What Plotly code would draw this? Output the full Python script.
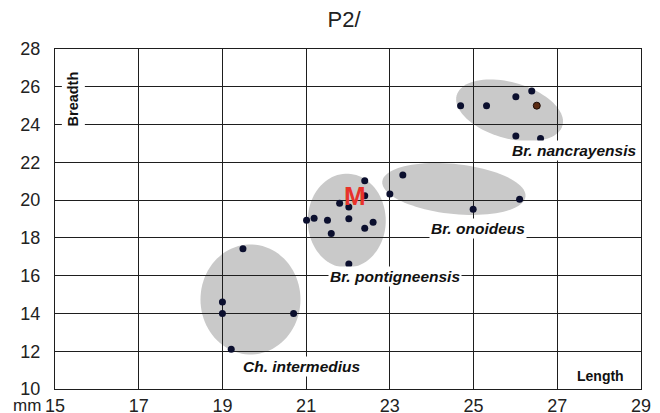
import numpy as np
import plotly.graph_objects as go

# ---------------- data ----------------
nanc_len = [24.69, 25.31, 26.01, 26.39, 26.51, 26.01, 26.60]
nanc_br = [24.99, 24.99, 25.47, 25.77, 25.00, 23.40, 23.26]
nanc_special = [False, False, False, False, True, False, False]

onoi_len = [23.31, 23.00, 24.99, 26.10]
onoi_br = [21.33, 20.32, 19.52, 20.04]

pont_len = [22.40, 22.40, 21.80, 22.02, 21.01, 21.19, 21.51, 22.02, 21.60, 22.40, 22.60, 22.02]
pont_br = [21.02, 20.23, 19.84, 19.63, 18.93, 19.04, 18.93, 19.01, 18.23, 18.51, 18.83, 16.62]

inter_len = [19.49, 19.00, 19.00, 20.70, 19.21]
inter_br = [17.43, 14.60, 14.00, 14.00, 12.10]

x_ticks = [15, 17, 19, 21, 23, 25, 27, 29]
y_ticks = [10, 12, 14, 16, 18, 20, 22, 24, 26, 28]

group_names = ["Br. nancrayensis", "Br. onoideus", "Br. pontigneensis", "Ch. intermedius"]

# ---------------- layout geometry ----------------
# the page body adds an 8 px margin, so the figure starts at (8, 8) on screen
OFF = 8
W, H = 644, 413
ML, MT = 55 - OFF, 49 - OFF
PW, PH = 586, 340
MR, MB = W - ML - PW, H - MT - PH
XR = (15, 29)
YR = (10, 28)
px_x = PW / (XR[1] - XR[0])
px_y = PH / (YR[1] - YR[0])

# ellipses: centre (data), semi axes (screen px), rotation (deg, clockwise on screen)
ellipses = [
    dict(cx=25.86, cy=24.75, a=55, b=28, ang=16),
    dict(cx=24.53, cy=20.59, a=72, b=25, ang=6),
    dict(cx=21.97, cy=18.91, a=39, b=47, ang=0),
    dict(cx=19.67, cy=14.74, a=50, b=55, ang=0),
]


def ellipse_path(e, n=90):
    t = np.linspace(0, 2 * np.pi, n, endpoint=False)
    th = np.radians(e["ang"])
    dx = e["a"] * np.cos(t) * np.cos(th) - e["b"] * np.sin(t) * np.sin(th)
    dy = e["a"] * np.cos(t) * np.sin(th) + e["b"] * np.sin(t) * np.cos(th)
    xs = e["cx"] + dx / px_x
    ys = e["cy"] - dy / px_y
    return "M " + " L ".join(f"{x:.4f},{y:.4f}" for x, y in zip(xs, ys)) + " Z"


fig = go.Figure()

dot_col = "#0b0f2e"
for lx, ly in [(onoi_len, onoi_br), (pont_len, pont_br), (inter_len, inter_br)]:
    fig.add_trace(go.Scatter(x=lx, y=ly, mode="markers",
                             marker=dict(size=7, color=dot_col), showlegend=False,
                             hoverinfo="x+y"))
fig.add_trace(go.Scatter(
    x=nanc_len, y=nanc_br, mode="markers",
    marker=dict(size=7, color=["#5a2a12" if s else dot_col for s in nanc_special],
                line=dict(width=[1 if s else 0 for s in nanc_special], color="#1a0a05")),
    showlegend=False, hoverinfo="x+y"))

for e in ellipses:
    fig.add_shape(type="path", path=ellipse_path(e), xref="x", yref="y",
                  fillcolor="#c9c9c9", line=dict(width=0), layer="below")

FONT = "Liberation Sans, Arial, sans-serif"
lab_font = dict(family=FONT, size=15.5, color="#111111")
label_pos = [(27.39, 22.62), (25.11, 18.51), (23.13, 15.98), (20.90, 11.18)]
for name, (ax_, ay_) in zip(group_names, label_pos):
    fig.add_annotation(x=ax_, y=ay_, xref="x", yref="y", showarrow=False,
                       text=f"<b><i>{name}</i></b>", font=lab_font,
                       bgcolor="white", borderpad=1)

fig.add_annotation(x=22.17, y=20.22, xref="x", yref="y", showarrow=False,
                   text="<b>M</b>", font=dict(family=FONT, size=26, color="#e8322a"))

fig.add_annotation(x=15.44, y=25.35, xref="x", yref="y", showarrow=False,
                   text="<b>Breadth</b>", textangle=-90, bgcolor="white", borderpad=3,
                   font=dict(family=FONT, size=14.5, color="#111"))
fig.add_annotation(x=28.04, y=10.69, xref="x", yref="y", showarrow=False,
                   text="<b>Length</b>", font=dict(family=FONT, size=14, color="#111"))
fig.add_annotation(x=(27 - OFF - ML) / PW, y=(H - MB - (405 - OFF)) / PH,
                   xref="paper", yref="paper",
                   showarrow=False, text="mm", yanchor="middle", xanchor="center",
                   font=dict(family=FONT, size=17, color="#222"))

tick_font = dict(family=FONT, size=18, color="#222")
fig.update_layout(
    width=W, height=H,
    margin=dict(l=ML, r=MR, t=MT, b=MB, pad=0, autoexpand=False),
    paper_bgcolor="white", plot_bgcolor="white",
    title=dict(text="P2/", x=(344 - OFF) / W, xanchor="center",
               y=1 - (19 - OFF) / H, yanchor="middle",
               xref="container", yref="container",
               font=dict(family=FONT, size=22, color="#222")),
    xaxis=dict(range=XR, tickvals=x_ticks, ticktext=[str(v) for v in x_ticks],
               showgrid=True, gridcolor="#1e1e1e", gridwidth=1, zeroline=False,
               showline=True, linecolor="#1e1e1e", linewidth=1, mirror=True,
               ticks="", tickfont=tick_font, fixedrange=True, automargin=False),
    yaxis=dict(range=YR, tickvals=y_ticks, ticktext=[str(v) for v in y_ticks],
               showgrid=True, gridcolor="#1e1e1e", gridwidth=1, zeroline=False,
               showline=True, linecolor="#1e1e1e", linewidth=1, mirror=True,
               ticks="", ticklabelstandoff=10, tickfont=tick_font, fixedrange=True,
               automargin=False),
)

fig.write_html("out.html")
